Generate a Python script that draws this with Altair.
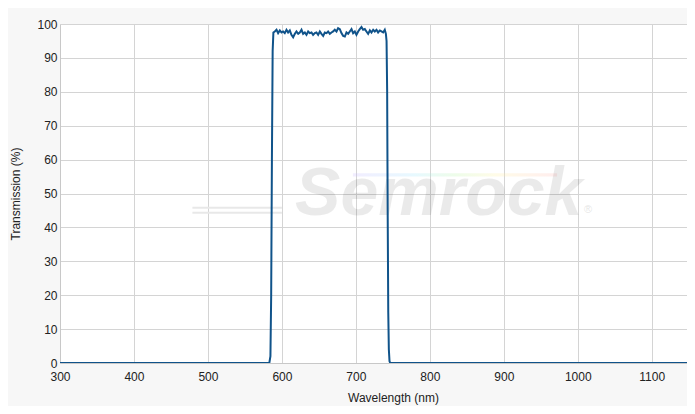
import altair as alt
import pandas as pd

# Spectrum: wavelength (nm) and transmission (%)
edge_up_nm = [300, 583.0, 584.5, 585.5, 586.5, 587.5, 588.5]
edge_up_t = [0, 0, 2, 20, 60, 92, 97.5]

ripple_nm = [590.4, 592.7, 594.9, 597.2, 599.4, 601.7, 603.9, 606.2, 608.4, 610.7,
             612.9, 615.2, 617.5, 619.7, 622.0, 624.2, 626.5, 628.7, 631.0, 633.2,
             635.5, 637.7, 640.0, 642.2, 644.5, 646.7, 649.0, 651.3, 653.5, 655.8,
             658.0, 660.3, 662.5, 664.8, 667.0, 669.3, 671.5, 673.8, 676.0, 678.3,
             680.5, 682.8, 685.1, 687.3, 689.6, 691.8, 694.1, 696.3, 698.6, 700.8,
             703.1, 705.3, 707.6, 709.8, 712.1, 714.3, 716.6, 718.9, 721.1, 723.4,
             725.6, 727.9, 730.1, 732.4, 734.6, 736.9, 739.1, 740.6]
ripple_t = [97.8, 98.3, 97.3, 98.1, 97.5, 97.8, 97.3, 98.3, 97.5, 98.1,
            96.8, 96.1, 97.1, 97.8, 97.1, 97.5, 98.3, 97.1, 97.5, 96.8,
            97.8, 97.3, 97.5, 96.8, 97.3, 97.5, 96.8, 97.8, 97.1, 96.5,
            97.5, 97.3, 97.8, 97.1, 97.5, 97.8, 98.3, 97.8, 98.8, 98.5,
            97.3, 96.5, 96.3, 97.5, 97.1, 97.8, 98.5, 97.3, 97.8, 96.8,
            97.8, 98.5, 99.1, 98.3, 98.5, 97.8, 97.1, 98.1, 97.5, 98.3,
            97.8, 98.3, 97.5, 98.1, 97.8, 97.5, 98.3, 97.1]

edge_down_nm = [741.5, 742.3, 743.0, 743.8, 744.6, 745.5, 746.5, 1160]
edge_down_t = [95, 80, 45, 15, 4, 0.5, 0, 0]

wavelength = edge_up_nm + ripple_nm + edge_down_nm
transmission = edge_up_t + ripple_t + edge_down_t

x_ticks = [300, 400, 500, 600, 700, 800, 900, 1000, 1100]
y_ticks = [0, 10, 20, 30, 40, 50, 60, 70, 80, 90, 100]

# Watermark (logo text) placement in data units
wm_text = ["Semrock"]
wm_x = [812]
wm_y = [43.7]
reg_x = [1014]
reg_y = [45.0]
swoosh_x1 = [479, 479]
swoosh_x2 = [600, 600]
swoosh_y = [45.8, 44.3]
rainbow_x1 = [696]
rainbow_x2 = [972]
rainbow_y1 = [55.0]
rainbow_y2 = [56.0]

df = pd.DataFrame({"wl": wavelength, "t": transmission})
FONT = "Liberation Sans"

xscale = alt.Scale(domain=[300, 1158.5], nice=False, zero=False)
yscale = alt.Scale(domain=[0, 100], nice=False)

xaxis = alt.Axis(values=x_ticks, format="d", title="Wavelength (nm)", grid=True, gridColor="#d4d4d4",
                 ticks=False, domainColor="#c8c8c8", labelFont=FONT, labelFontSize=12,
                 labelColor="#222", labelPadding=8, titleFont=FONT, titleFontSize=12,
                 titleFontWeight="normal", titleColor="#222", titleX=333,
                 titleY=38.5, titleBaseline="alphabetic", labelFlush=False)
yaxis = alt.Axis(values=y_ticks, format="d", title="Transmission (%)", grid=True, gridColor="#d4d4d4",
                 ticks=False, domainColor="#c8c8c8", labelFont=FONT, labelFontSize=12,
                 labelColor="#222", labelPadding=3, titleFont=FONT, titleFontSize=12,
                 titleFontWeight="normal", titleColor="#222", titleX=-45,
                 titleBaseline="middle", labelOverlap=False)

swoosh = alt.Chart(pd.DataFrame({"x1": swoosh_x1, "x2": swoosh_x2, "y": swoosh_y})).mark_rule(
    color="#e8e8e8", strokeWidth=2
).encode(x=alt.X("x1:Q", scale=xscale, axis=xaxis), x2="x2:Q",
         y=alt.Y("y:Q", scale=yscale, axis=yaxis))

rainbow = alt.Chart(pd.DataFrame({"x1": rainbow_x1, "x2": rainbow_x2, "y1": rainbow_y1, "y2": rainbow_y2})).mark_rect(
    opacity=0.25,
    color=alt.Gradient(
        gradient="linear",
        stops=[alt.GradientStop(color="#c9b8ff", offset=0),
               alt.GradientStop(color="#9fe7ff", offset=0.3),
               alt.GradientStop(color="#b8f5a8", offset=0.5),
               alt.GradientStop(color="#fff1a0", offset=0.7),
               alt.GradientStop(color="#ffb8b8", offset=1)],
        x1=0, x2=1, y1=0, y2=0)
).encode(x=alt.X("x1:Q", scale=xscale, axis=xaxis), x2="x2:Q",
         y=alt.Y("y1:Q", scale=yscale, axis=yaxis), y2="y2:Q")

wm = alt.Chart(pd.DataFrame({"x": wm_x, "y": wm_y, "s": wm_text})).mark_text(
    font=FONT, fontSize=68, fontWeight="bold", fontStyle="italic", color="#000", opacity=0.08,
    align="center", baseline="alphabetic"
).encode(x=alt.X("x:Q", scale=xscale, axis=xaxis), y=alt.Y("y:Q", scale=yscale, axis=yaxis), text="s:N")

reg = alt.Chart(pd.DataFrame({"x": reg_x, "y": reg_y, "s": ["®"]})).mark_text(
    font=FONT, fontSize=11, color="#000", opacity=0.1, align="center", baseline="middle"
).encode(x=alt.X("x:Q", scale=xscale, axis=xaxis), y=alt.Y("y:Q", scale=yscale, axis=yaxis), text="s:N")

line = alt.Chart(df).mark_line(color="#10538a", strokeWidth=2, clip=True).encode(
    x=alt.X("wl:Q", scale=xscale, axis=xaxis),
    y=alt.Y("t:Q", scale=yscale, axis=yaxis),
    order=alt.Order("wl:Q"),
)

chart = alt.layer(swoosh, rainbow, wm, reg, line).properties(
    width=635, height=339,
    background="#f7f7f7",
    padding={"left": 52, "top": 16, "right": -8, "bottom": 43},
    autosize=alt.AutoSizeParams(type="none"),
).configure_view(fill="white", stroke=None)

chart.save("out.html", embed_options={"renderer": "svg", "actions": False})
